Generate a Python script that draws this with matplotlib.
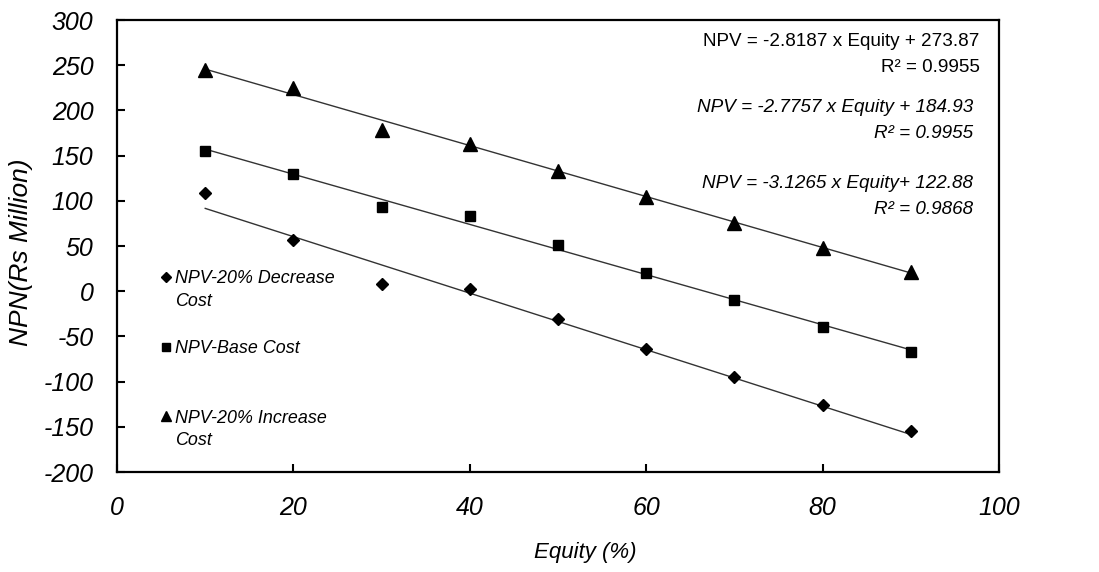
import matplotlib
matplotlib.use('Agg')
import matplotlib.pyplot as plt
import numpy as np

plt.rcParams['font.family'] = ['Liberation Sans', 'DejaVu Sans']
plt.rcParams['axes.unicode_minus'] = False

# ===== Data =====
equity = [10, 20, 30, 40, 50, 60, 70, 80, 90]
npv_decrease = [109, 57, 8, 2, -31, -64, -95, -126, -155]
npv_base = [155, 130, 93, 83, 51, 20, -10, -40, -67]
npv_increase = [245, 225, 178, 163, 133, 104, 75, 48, 21]

# trendline coefficients (slope, intercept) as printed on chart
trend_decrease = (-3.1265, 122.88)
trend_base = (-2.7757, 184.93)
trend_increase = (-2.8187, 273.87)

fig = plt.figure(figsize=(10.99, 5.72), dpi=100)
ax = fig.add_axes([0.1065, 0.1748, 0.8025, 0.7902])

C_LINE = '#333333'
xs = np.array([equity[0], equity[-1]])
for (m, b) in (trend_decrease, trend_base, trend_increase):
    ax.plot(xs, m * xs + b, color=C_LINE, linewidth=1.0, zorder=2)

h1, = ax.plot(equity, npv_decrease, 'D', color='black', markersize=6.4, linestyle='none', zorder=3)
h2, = ax.plot(equity, npv_base, 's', color='black', markersize=7.4, linestyle='none', zorder=3)
h3, = ax.plot(equity, npv_increase, '^', color='black', markersize=9.4, linestyle='none', zorder=3)

ax.set_xlim(0, 100)
ax.set_ylim(-200, 300)
ax.set_xticks(range(0, 101, 20))
ax.set_yticks(range(-200, 301, 50))
ax.tick_params(direction='in', length=6, width=1.5, labelsize=18, pad=17)
for lab in ax.get_xticklabels() + ax.get_yticklabels():
    lab.set_fontstyle('italic')
for s in ax.spines.values():
    s.set_linewidth(1.6)

ax.set_xlabel('Equity (%)', fontsize=16, style='italic')
ax.xaxis.set_label_coords(0.531, -0.155)
ax.set_ylabel('NPN(Rs Million)', fontsize=19, style='italic')
ax.yaxis.set_label_coords(-0.095, 0.487)

# Legend
leg = ax.legend([h1, h2, h3], ['NPV-20% Decrease', 'NPV-Base Cost', 'NPV-20% Increase'],
                loc='upper left', bbox_to_anchor=(0.049, 0.447), frameon=False,
                prop={'size': 12.9, 'style': 'italic'}, handlelength=0.6, handletextpad=0.25,
                labelspacing=2.95, borderpad=0, borderaxespad=0, markerscale=0.8)
fig.canvas.draw()
for t in (leg.get_texts()[0], leg.get_texts()[2]):
    ax.annotate('Cost', xy=(0, 0), xycoords=t, xytext=(0, -4), textcoords='offset points',
                ha='left', va='top', fontsize=12.9, style='italic', annotation_clip=False)

# Trendline equations (one text per line, baseline-anchored)
eq_lines = [
    ('NPV = -2.8187 x Equity + 273.87', 0.978, 0.943, 'normal'),
    ('R² = 0.9955', 0.978, 0.884, 'normal'),
    ('NPV = -2.7757 x Equity + 184.93', 0.9705, 0.797, 'italic'),
    ('R² = 0.9955', 0.9705, 0.738, 'italic'),
    ('NPV = -3.1265 x Equity+ 122.88', 0.9705, 0.629, 'italic'),
    ('R² = 0.9868', 0.9705, 0.570, 'italic'),
]
for txt, x, y, st in eq_lines:
    ax.text(x, y, txt, transform=ax.transAxes, ha='right', va='baseline',
            fontsize=13.6, style=st)

fig.savefig('out.png', dpi=100)
plt.close(fig)
